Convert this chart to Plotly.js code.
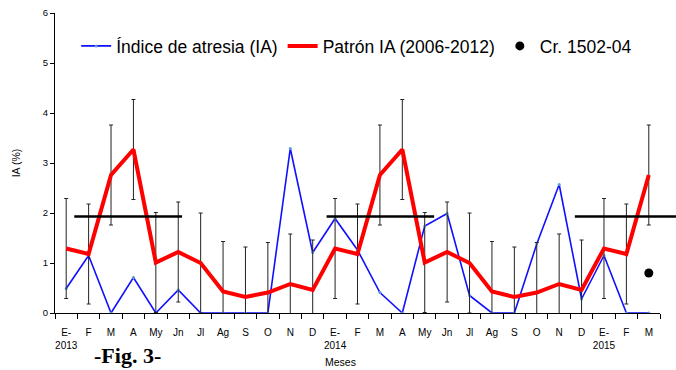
<!DOCTYPE html>
<html><head><meta charset="utf-8">
<script src="https://cdn.plot.ly/plotly-3.0.1.min.js"></script>
<style>html,body{margin:0;padding:0;background:#fff}</style>
</head><body><div id="chart" style="width:676px;height:370px"></div>
<script>
const categories = ["2013-01","2013-02","2013-03","2013-04","2013-05","2013-06","2013-07","2013-08","2013-09","2013-10","2013-11","2013-12",
  "2014-01","2014-02","2014-03","2014-04","2014-05","2014-06","2014-07","2014-08","2014-09","2014-10","2014-11","2014-12",
  "2015-01","2015-02","2015-03"];
const tickLabels = ["E-<br>2013","F","M","A","My","Jn","Jl","Ag","S","O","N","D",
  "E-<br>2014","F","M","A","My","Jn","Jl","Ag","S","O","N","D",
  "E-<br>2015","F","M"];
const indiceIA = [0.49,1.15,0,0.71,0,0.46,0,0,0,0,3.29,1.21,
  1.89,1.26,0.41,0,1.74,1.99,0.35,0,0,1.38,2.57,0.28,
  1.15,0,0];
const patronIA = [1.29,1.18,2.76,3.27,1.01,1.22,1.0,0.43,0.32,0.41,0.58,0.46,
  1.29,1.18,2.76,3.27,1.01,1.22,1.0,0.43,0.32,0.41,0.58,0.46,
  1.29,1.18,2.76];
const patronError = 1.0;
const crucero = {x: ["2015-03"], y: [0.8]};
const thresholdValue = 1.93;
const thresholdStart = [0.36, 11.62, 22.7];
const thresholdEnd = [5.17, 16.42, 27.28];

const font = "Liberation Sans, Arial, sans-serif";
const nCat = categories.length;

const traces = [
  {x: categories, y: indiceIA, type: "scatter", mode: "lines+markers", name: "Índice de atresia (IA)",
   line: {color: "#1010ff", width: 1.6}, marker: {color: "#5b9bd5", size: 3}},
  {x: categories, y: patronIA, type: "scatter", mode: "lines", name: "Patrón IA (2006-2012)",
   line: {color: "#ff0000", width: 4},
   error_y: {type: "constant", value: patronError, color: "#222", thickness: 1, width: 2}},
  {x: crucero.x, y: crucero.y, type: "scatter", mode: "markers", name: "Cr. 1502-04",
   marker: {color: "#000", size: 9}}
];

const shapes = thresholdStart.map((s, i) => ({
  type: "line", xref: "x domain", yref: "y",
  x0: (s + 0.5) / nCat, x1: (thresholdEnd[i] + 0.5) / nCat,
  y0: thresholdValue, y1: thresholdValue,
  line: {color: "#000", width: 2.5}
}));

const layout = {
  width: 676, height: 370,
  margin: {l: 55, r: 16, t: 13, b: 57},
  paper_bgcolor: "#fff", plot_bgcolor: "#fff",
  font: {family: font, size: 9, color: "#000"},
  showlegend: true,
  legend: {orientation: "h", x: 0.035, xanchor: "left", y: 0.89, yanchor: "middle",
    font: {family: font, size: 17.5, color: "#000"}, bgcolor: "rgba(0,0,0,0)", itemwidth: 30},
  xaxis: {type: "category", categoryorder: "array", categoryarray: categories,
    tickmode: "array", tickvals: categories, ticktext: tickLabels, tickangle: 0,
    tickson: "boundaries", ticks: "outside", ticklen: 5, tickcolor: "#000",
    ticklabelstandoff: 10,
    showline: true, linecolor: "#000", linewidth: 1, showgrid: false, zeroline: false,
    tickfont: {family: font, size: 10}, range: [-0.5, nCat - 0.5]},
  yaxis: {range: [0, 6], dtick: 1, ticks: "outside", ticklen: 4, tickcolor: "#000",
    showline: true, linecolor: "#000", linewidth: 1, showgrid: false, zeroline: false,
    tickfont: {family: font, size: 9.5},
    title: {text: "IA (%)", font: {family: font, size: 10.5}, standoff: 20}},
  shapes: shapes,
  annotations: [
    {text: "Meses", xref: "paper", yref: "paper", x: (340 - 55) / 605, y: 0, yshift: -49,
     xanchor: "center", yanchor: "middle", showarrow: false, font: {family: font, size: 10.5}},
    {text: "<b>-Fig. 3-</b>", xref: "paper", yref: "paper", x: (127 - 55) / 605, y: 0, yshift: -42,
     xanchor: "center", yanchor: "middle", showarrow: false, font: {family: "Liberation Serif, Times New Roman, serif", size: 22}}
  ]
};
Plotly.newPlot("chart", traces, layout, {displayModeBar: false, staticPlot: true});
</script></body></html>
